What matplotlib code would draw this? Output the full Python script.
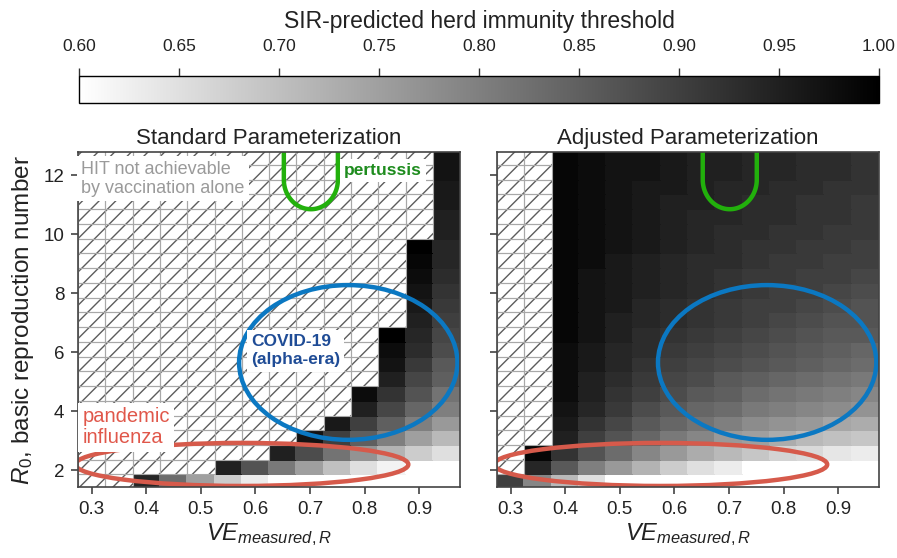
import numpy as np
import matplotlib
matplotlib.use("Agg")
import matplotlib.pyplot as plt
from matplotlib.patches import Ellipse, Rectangle

plt.rcParams['font.family'] = ['Liberation Sans', 'DejaVu Sans']
plt.rcParams['mathtext.fontset'] = 'custom'
plt.rcParams['mathtext.rm'] = 'Liberation Sans'
plt.rcParams['mathtext.it'] = 'Liberation Sans:italic'
plt.rcParams['hatch.linewidth'] = 1.0

N = np.nan  # cell where the HIT is not reachable by vaccination

# measured VE against infection (columns) and R0 (rows)
ve_measured = [0.30, 0.35, 0.40, 0.45, 0.50, 0.55, 0.60, 0.65, 0.70, 0.75, 0.80, 0.85, 0.90, 0.95]
r0_values = [1.6, 2.1, 2.6, 3.1, 3.6, 4.1, 4.6, 5.1, 5.6, 6.1, 6.6, 7.1,
             7.6, 8.1, 8.6, 9.1, 9.6, 10.1, 10.6, 11.1, 11.6, 12.1, 12.6]

hit_standard = [
    [N, N, 0.94, 0.83, 0.75, 0.68, 0.63, 0.58, 0.54, 0.50, 0.47, 0.44, 0.42, 0.39],
    [N, N, N, N, N, 0.95, 0.87, 0.81, 0.75, 0.70, 0.65, 0.62, 0.58, 0.55],
    [N, N, N, N, N, N, N, 0.95, 0.88, 0.82, 0.77, 0.72, 0.68, 0.65],
    [N, N, N, N, N, N, N, N, 0.97, 0.90, 0.85, 0.80, 0.75, 0.71],
    [N, N, N, N, N, N, N, N, N, 0.96, 0.90, 0.85, 0.80, 0.76],
    [N, N, N, N, N, N, N, N, N, N, 0.95, 0.89, 0.84, 0.80],
    [N, N, N, N, N, N, N, N, N, N, 0.98, 0.92, 0.87, 0.82],
    [N, N, N, N, N, N, N, N, N, N, N, 0.95, 0.89, 0.85],
    [N, N, N, N, N, N, N, N, N, N, N, 0.97, 0.91, 0.86],
    [N, N, N, N, N, N, N, N, N, N, N, 0.98, 0.93, 0.88],
    [N, N, N, N, N, N, N, N, N, N, N, 1.00, 0.94, 0.89],
    [N, N, N, N, N, N, N, N, N, N, N, N, 0.95, 0.90],
    [N, N, N, N, N, N, N, N, N, N, N, N, 0.96, 0.91],
    [N, N, N, N, N, N, N, N, N, N, N, N, 0.97, 0.92],
    [N, N, N, N, N, N, N, N, N, N, N, N, 0.98, 0.93],
    [N, N, N, N, N, N, N, N, N, N, N, N, 0.99, 0.94],
    [N, N, N, N, N, N, N, N, N, N, N, N, 1.00, 0.94],
    [N, N, N, N, N, N, N, N, N, N, N, N, N, 0.95],
    [N, N, N, N, N, N, N, N, N, N, N, N, N, 0.95],
    [N, N, N, N, N, N, N, N, N, N, N, N, N, 0.96],
    [N, N, N, N, N, N, N, N, N, N, N, N, N, 0.96],
    [N, N, N, N, N, N, N, N, N, N, N, N, N, 0.97],
    [N, N, N, N, N, N, N, N, N, N, N, N, N, 0.97],
]

hit_adjusted = [
    [0.90, 0.79, 0.71, 0.65, 0.60, 0.56, 0.53, 0.50, 0.47, 0.45, 0.43, 0.42, 0.40, 0.39],
    [N, 0.94, 0.86, 0.80, 0.76, 0.72, 0.68, 0.65, 0.63, 0.60, 0.58, 0.57, 0.55, 0.54],
    [N, 0.99, 0.92, 0.87, 0.83, 0.79, 0.76, 0.73, 0.71, 0.69, 0.67, 0.66, 0.64, 0.63],
    [N, N, 0.95, 0.90, 0.87, 0.84, 0.81, 0.79, 0.76, 0.75, 0.73, 0.71, 0.70, 0.69],
    [N, N, 0.96, 0.92, 0.89, 0.86, 0.84, 0.82, 0.80, 0.78, 0.77, 0.76, 0.74, 0.73],
    [N, N, 0.97, 0.94, 0.91, 0.88, 0.86, 0.84, 0.83, 0.81, 0.80, 0.79, 0.78, 0.77],
    [N, N, 0.98, 0.95, 0.92, 0.90, 0.88, 0.86, 0.85, 0.83, 0.82, 0.81, 0.80, 0.79],
    [N, N, 0.98, 0.95, 0.93, 0.91, 0.89, 0.88, 0.86, 0.85, 0.84, 0.83, 0.82, 0.81],
    [N, N, 0.98, 0.96, 0.94, 0.92, 0.90, 0.89, 0.88, 0.87, 0.86, 0.85, 0.84, 0.83],
    [N, N, 0.98, 0.96, 0.94, 0.93, 0.91, 0.90, 0.89, 0.88, 0.87, 0.86, 0.85, 0.84],
    [N, N, 0.99, 0.97, 0.95, 0.93, 0.92, 0.91, 0.90, 0.89, 0.88, 0.87, 0.86, 0.86],
    [N, N, 0.99, 0.97, 0.95, 0.94, 0.93, 0.92, 0.91, 0.90, 0.89, 0.88, 0.87, 0.87],
    [N, N, 0.99, 0.97, 0.96, 0.94, 0.93, 0.92, 0.91, 0.90, 0.90, 0.89, 0.88, 0.87],
    [N, N, 0.99, 0.97, 0.96, 0.95, 0.94, 0.93, 0.92, 0.91, 0.90, 0.90, 0.89, 0.88],
    [N, N, 0.99, 0.97, 0.96, 0.95, 0.94, 0.93, 0.92, 0.91, 0.91, 0.90, 0.90, 0.89],
    [N, N, 0.99, 0.98, 0.96, 0.95, 0.94, 0.93, 0.93, 0.92, 0.91, 0.91, 0.90, 0.90],
    [N, N, 0.99, 0.98, 0.97, 0.96, 0.95, 0.94, 0.93, 0.92, 0.92, 0.91, 0.91, 0.90],
    [N, N, 0.99, 0.98, 0.97, 0.96, 0.95, 0.94, 0.93, 0.93, 0.92, 0.92, 0.91, 0.91],
    [N, N, 0.99, 0.98, 0.97, 0.96, 0.95, 0.94, 0.94, 0.93, 0.93, 0.92, 0.92, 0.91],
    [N, N, 0.99, 0.98, 0.97, 0.96, 0.95, 0.95, 0.94, 0.93, 0.93, 0.92, 0.92, 0.91],
    [N, N, 0.99, 0.98, 0.97, 0.96, 0.96, 0.95, 0.94, 0.94, 0.93, 0.93, 0.92, 0.92],
    [N, N, 0.99, 0.98, 0.97, 0.97, 0.96, 0.95, 0.95, 0.94, 0.94, 0.93, 0.93, 0.92],
    [N, N, 0.99, 0.98, 0.97, 0.97, 0.96, 0.95, 0.95, 0.94, 0.94, 0.93, 0.93, 0.92],
]

panel_titles = ["Standard Parameterization", "Adjusted Parameterization"]
cbar_ticks = [0.60, 0.65, 0.70, 0.75, 0.80, 0.85, 0.90, 0.95, 1.00]
x_ticks = [0.3, 0.4, 0.5, 0.6, 0.7, 0.8, 0.9]
y_ticks = [2, 4, 6, 8, 10, 12]

# pathogen regions drawn on both panels
covid_center, covid_w, covid_h = (0.77, 5.65), 0.40, 5.25
flu_center, flu_w, flu_h = (0.575, 2.19), 0.61, 1.46
pert_left, pert_right, pert_bottom, pert_ry = 0.652, 0.751, 10.85, 1.0

GREEN = '#22b00c'
BLUE = '#0b78c2'
RED = '#d65a4b'

fig = plt.figure(figsize=(8.97, 5.58), dpi=100)
ax_l = fig.add_axes([0.087, 0.127, 0.426, 0.600])
ax_r = fig.add_axes([0.554, 0.127, 0.426, 0.600])
cax = fig.add_axes([0.088, 0.815, 0.892, 0.049])


def draw_panel(ax, hit, title):
    ve = np.array(ve_measured)
    r0 = np.array(r0_values)
    vals = np.array(hit, dtype=float)
    dx = ve[1] - ve[0]
    dy = r0[1] - r0[0]
    xe = np.append(ve - dx / 2, ve[-1] + dx / 2)
    ye = np.append(r0 - dy / 2, r0[-1] + dy / 2)
    mesh = ax.pcolormesh(xe, ye, np.ma.masked_invalid(vals), cmap='gray_r',
                         vmin=0.6, vmax=1.0, shading='flat',
                         edgecolors='face', linewidth=0.3)
    # hatched cells: HIT above 1
    for i, j in zip(*np.where(np.isnan(vals))):
        ax.add_patch(Rectangle((xe[j], ye[i]), dx, dy, facecolor='white',
                               edgecolor='#5c5c5c', lw=0, hatch='//', zorder=2))
        ax.add_patch(Rectangle((xe[j], ye[i]), dx, dy, fill=False,
                               edgecolor='#a8a8a8', lw=0.8, zorder=2.1))

    ax.add_patch(Ellipse(covid_center, covid_w, covid_h, fill=False,
                         ec=BLUE, lw=3.2, zorder=4))
    ax.add_patch(Ellipse(flu_center, flu_w, flu_h, fill=False,
                         ec=RED, lw=3.2, zorder=4))
    t = np.linspace(np.pi, 2 * np.pi, 60)
    cx = (pert_left + pert_right) / 2
    rx = (pert_right - pert_left) / 2
    px = np.concatenate([[pert_left], cx + rx * np.cos(t), [pert_right]])
    py = np.concatenate([[14], pert_bottom + pert_ry + pert_ry * np.sin(t), [14]])
    ax.plot(px, py, color=GREEN, lw=3.2, zorder=4, solid_capstyle='butt')

    ax.set_xlim(xe[0], xe[-1])
    ax.set_ylim(1.42, 12.78)
    ax.set_xticks(x_ticks)
    ax.set_xticklabels([f"{v:.1f}" for v in x_ticks])
    ax.set_yticks(y_ticks)
    ax.tick_params(labelsize=13.5, length=5, width=1.1, color='#333333',
                   labelcolor='#222222', pad=5)
    for s in ax.spines.values():
        s.set_color('#444444')
        s.set_linewidth(1.2)
        s.set_zorder(5)
    ax.set_title(title, fontsize=16, color='#222222', pad=6)
    ax.set_xlabel(r"$VE_{measured,R}$", fontsize=17, color='#222222', labelpad=2)
    return mesh


mesh = draw_panel(ax_l, hit_standard, panel_titles[0])
draw_panel(ax_r, hit_adjusted, panel_titles[1])
ax_r.tick_params(labelleft=False)
ax_l.set_ylabel(r"$R_0$, basic reproduction number", fontsize=17.5,
                color='#222222', labelpad=5)

box = dict(facecolor='white', edgecolor='none', pad=3)
ax_l.text(0.281, 12.5, "HIT not achievable\nby vaccination alone", fontsize=13,
          color='#9a9a9a', ha='left', va='top', linespacing=1.2, bbox=box, zorder=6)
ax_l.text(0.762, 12.17, "pertussis", fontsize=12.5, fontweight='bold',
          color='#1e8c1e', ha='left', va='center', bbox=box, zorder=6)
ax_l.text(0.592, 6.05, "COVID-19\n(alpha-era)", fontsize=12.5, fontweight='bold',
          color='#1f4c96', ha='left', va='center', linespacing=1.3, bbox=box, zorder=6)
ax_l.text(0.283, 3.45, "pandemic\ninfluenza", fontsize=14.5,
          color='#e0574a', ha='left', va='center', linespacing=1.15, bbox=box, zorder=6)

cb = fig.colorbar(mesh, cax=cax, orientation='horizontal')
cb.set_ticks(cbar_ticks)
cb.set_ticklabels([f"{v:.2f}" for v in cbar_ticks])
cax.xaxis.set_ticks_position('top')
cax.xaxis.set_label_position('top')
cax.tick_params(labelsize=12.5, length=6, width=1, color='#333333',
                labelcolor='#222222', pad=10)
cb.outline.set_linewidth(1)
cb.set_label("SIR-predicted herd immunity threshold", fontsize=16.5,
             color='#222222', labelpad=8)

fig.savefig("out.png", dpi=100, facecolor='white')
